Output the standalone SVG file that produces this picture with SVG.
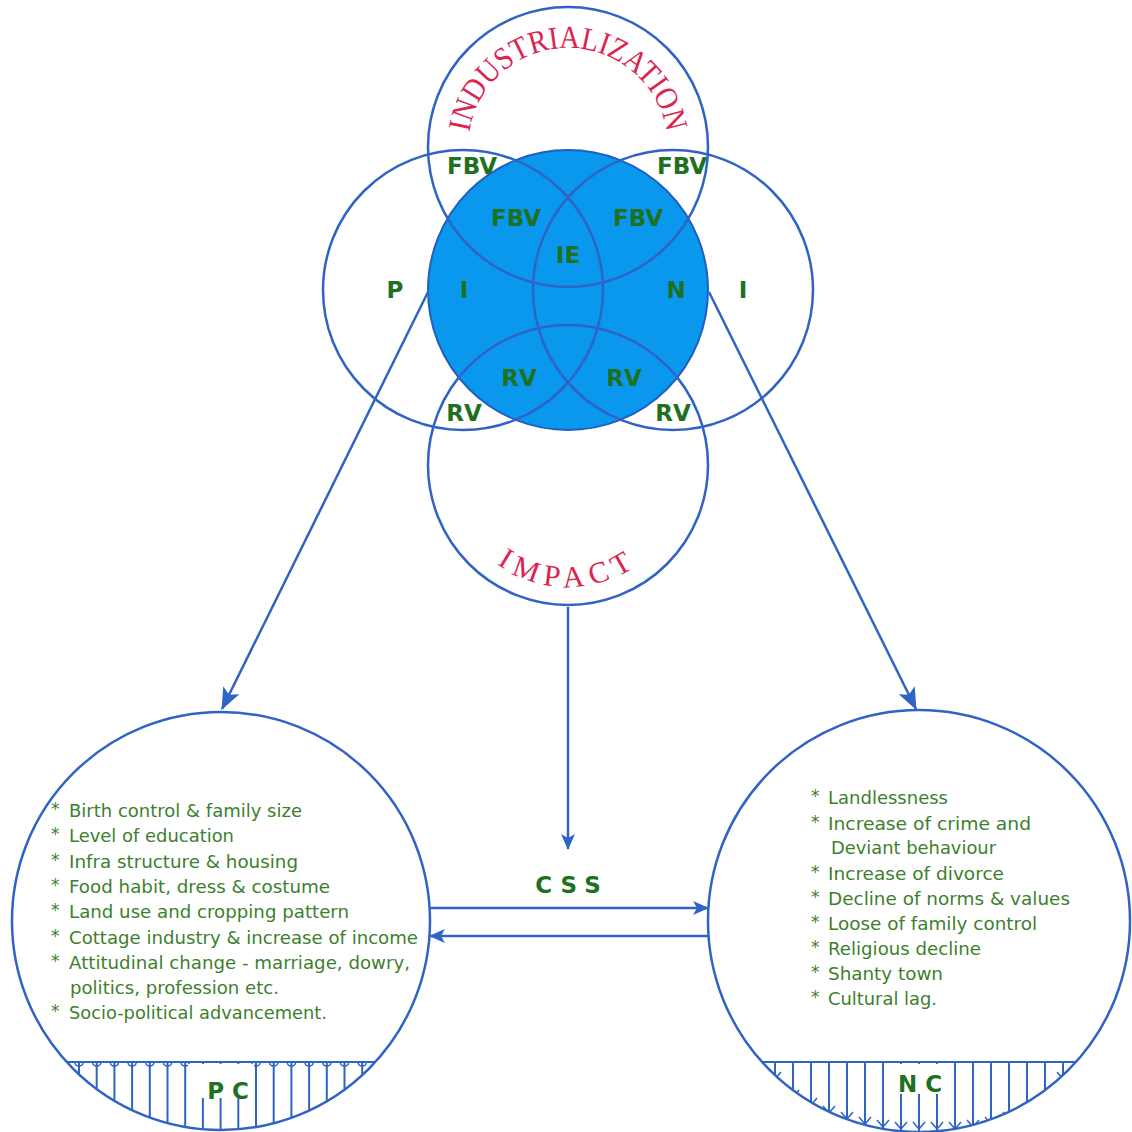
<svg xmlns="http://www.w3.org/2000/svg" width="1132" height="1132" viewBox="0 0 1132 1132">
<style>
.ring{fill:none;stroke:#2f64c4;stroke-width:2.5}
.lbl{font-family:"DejaVu Sans",Verdana,sans-serif;font-weight:bold;font-size:23px;fill:#1f701f;text-anchor:middle}
.red{font-family:"Liberation Serif","Times New Roman",serif;fill:#dc2451}
.item{font-family:"DejaVu Sans",Verdana,sans-serif;font-size:18.5px;fill:#3d7f2c}
.star{font-family:"DejaVu Sans",Verdana,sans-serif;font-size:17px;fill:#3d7f2c}
.link{fill:none;stroke:#2f64c4;stroke-width:2.5}
.hatch{stroke:#2f64c4;stroke-width:2;fill:none}
</style>
<defs>
<marker id="head" viewBox="0 0 22 18" markerWidth="22" markerHeight="18" refX="21" refY="9" orient="auto" markerUnits="userSpaceOnUse">
<path d="M0,0 L22,9 L0,18 L5,9 z" fill="#2f64c4"/>
</marker>
<marker id="headS" viewBox="0 0 16 14" markerWidth="16" markerHeight="14" refX="15" refY="7" orient="auto" markerUnits="userSpaceOnUse">
<path d="M0,0 L16,7 L0,14 L4,7 z" fill="#2f64c4"/>
</marker>
<path id="arcTop" d="M468,148 A100,100 0 0 1 668,148"/>
<path id="arcBot" d="M446,465 A122,122 0 0 0 690,465"/>
<clipPath id="clipPC"><circle cx="221" cy="921" r="209"/></clipPath>
<clipPath id="clipNC"><circle cx="919" cy="921" r="211"/></clipPath>
</defs>
<rect width="1132" height="1132" fill="#ffffff"/>

<!-- central shaded circle -->
<g id="centre">
<circle cx="568" cy="290" r="140" fill="#0a98ee" stroke="#1f5fc2" stroke-width="2"/>
</g>

<!-- outer rings -->
<g id="industrialization">
<circle class="ring" cx="568" cy="147" r="140"/>
<text class="red" font-size="32"><textPath href="#arcTop" startOffset="50%" text-anchor="middle" textLength="282" lengthAdjust="spacingAndGlyphs">INDUSTRIALIZATION</textPath></text>
</g>
<g id="left-ring">
<circle class="ring" cx="463" cy="290" r="140"/>
</g>
<g id="right-ring">
<circle class="ring" cx="673" cy="290" r="140"/>
</g>
<g id="impact">
<circle class="ring" cx="568" cy="465" r="140"/>
<text class="red" font-size="30" letter-spacing="7"><textPath href="#arcBot" startOffset="50%" text-anchor="middle">IMPACT</textPath></text>
</g>

<!-- region labels -->
<g id="regions" class="lbl">
<text x="472" y="174">FBV</text>
<text x="682" y="174">FBV</text>
<text x="516" y="226">FBV</text>
<text x="638" y="226">FBV</text>
<text x="568" y="263">IE</text>
<text x="395" y="298">P</text>
<text x="464" y="298">I</text>
<text x="676" y="298">N</text>
<text x="743" y="298">I</text>
<text x="519" y="386">RV</text>
<text x="624" y="386">RV</text>
<text x="464" y="421">RV</text>
<text x="673" y="421">RV</text>
</g>

<!-- connectors -->
<g id="connectors">
<line class="link" x1="428" y1="292" x2="222" y2="709" marker-end="url(#head)"/>
<line class="link" x1="709" y1="292" x2="916" y2="709" marker-end="url(#head)"/>
<line class="link" x1="568" y1="607" x2="568" y2="849" marker-end="url(#headS)"/>
<line class="link" x1="430" y1="908" x2="708" y2="908" marker-end="url(#headS)"/>
<line class="link" x1="708" y1="936" x2="430" y2="936" marker-end="url(#headS)"/>
<text class="lbl" x="572" y="893" letter-spacing="8">CSS</text>
</g>

<!-- positive consequences -->
<g id="pc">
<circle class="ring" cx="221" cy="921" r="209"/>
<g clip-path="url(#clipPC)" class="hatch">
<line x1="66" y1="1062" x2="377" y2="1062"/>
<path d="M79,1062V1140M96.7,1062V1140M114.4,1062V1140M132.1,1062V1140M149.8,1062V1140M167.5,1062V1140M185.2,1062V1140M202.9,1062V1140M220.6,1062V1140M238.3,1062V1140M256,1062V1140M273.7,1062V1140M291.4,1062V1140M309.1,1062V1140M326.8,1062V1140M344.5,1062V1140M362.2,1062V1140"/>
<path stroke-width="1.5" d="M75,1063a4,3 0 0 0 8,0M92.7,1063a4,3 0 0 0 8,0M110.4,1063a4,3 0 0 0 8,0M128.1,1063a4,3 0 0 0 8,0M145.8,1063a4,3 0 0 0 8,0M163.5,1063a4,3 0 0 0 8,0M181.2,1063a4,3 0 0 0 8,0M252,1063a4,3 0 0 0 8,0M269.7,1063a4,3 0 0 0 8,0M287.4,1063a4,3 0 0 0 8,0M305.1,1063a4,3 0 0 0 8,0M322.8,1063a4,3 0 0 0 8,0M340.5,1063a4,3 0 0 0 8,0M358.2,1063a4,3 0 0 0 8,0"/>
</g>
<rect x="188" y="1064" width="66" height="34" fill="#ffffff"/>
<text class="lbl" x="232" y="1099" letter-spacing="8">PC</text>
<text class="star" x="51" y="815">*</text>
<text class="star" x="51" y="840">*</text>
<text class="star" x="51" y="866">*</text>
<text class="star" x="51" y="891">*</text>
<text class="star" x="51" y="916">*</text>
<text class="star" x="51" y="942">*</text>
<text class="star" x="51" y="967">*</text>
<text class="star" x="51" y="1017">*</text>
<text class="item" x="69" y="817" textLength="233" lengthAdjust="spacingAndGlyphs">Birth control &amp; family size</text>
<text class="item" x="69" y="842" textLength="165" lengthAdjust="spacingAndGlyphs">Level of education</text>
<text class="item" x="69" y="868" textLength="229" lengthAdjust="spacingAndGlyphs">Infra structure &amp; housing</text>
<text class="item" x="69" y="893" textLength="261" lengthAdjust="spacingAndGlyphs">Food habit, dress &amp; costume</text>
<text class="item" x="69" y="918" textLength="280" lengthAdjust="spacingAndGlyphs">Land use and cropping pattern</text>
<text class="item" x="69" y="944" textLength="349" lengthAdjust="spacingAndGlyphs">Cottage industry &amp; increase of income</text>
<text class="item" x="69" y="969" textLength="341" lengthAdjust="spacingAndGlyphs">Attitudinal change - marriage, dowry,</text>
<text class="item" x="70" y="994" textLength="209" lengthAdjust="spacingAndGlyphs">politics, profession etc.</text>
<text class="item" x="69" y="1019" textLength="258" lengthAdjust="spacingAndGlyphs">Socio-political advancement.</text>
</g>

<!-- negative consequences -->
<g id="nc">
<circle class="ring" cx="919" cy="921" r="211"/>
<g clip-path="url(#clipNC)" class="hatch">
<line x1="760" y1="1062" x2="1078" y2="1062"/>
<path d="M775,1062V1140M793,1062V1140M811,1062V1140M829,1062V1140M847,1062V1140M865,1062V1140M883,1062V1140M901,1062V1140M919,1062V1140M937,1062V1140M955,1062V1140M973,1062V1140M991,1062V1140M1009,1062V1140M1027,1062V1140M1045,1062V1140M1063,1062V1140"/>
<path stroke-width="1.5" d="M769,1072L775,1079L781,1072M769,1088L775,1095L781,1088M787,1090L793,1097L799,1090M805,1098L811,1105L817,1098M823,1106L829,1113L835,1106M841,1112L847,1119L853,1112M859,1117L865,1124L871,1117M877,1120L883,1127L889,1120M895,1122L901,1129L907,1122M913,1122L919,1129L925,1122M931,1122L937,1129L943,1122M949,1122L955,1129L961,1122M967,1120L973,1127L979,1120M985,1117L991,1124L997,1117M1003,1112L1009,1119L1015,1112M1021,1106L1027,1113L1033,1106M1039,1098L1045,1105L1051,1098M1057,1090L1063,1097L1069,1090M1057,1072L1063,1079L1069,1072"/>
</g>
<rect x="885" y="1064" width="66" height="30" fill="#ffffff"/>
<text class="lbl" x="924" y="1092" letter-spacing="8">NC</text>
<text class="star" x="811" y="802">*</text>
<text class="star" x="811" y="828">*</text>
<text class="star" x="811" y="878">*</text>
<text class="star" x="811" y="903">*</text>
<text class="star" x="811" y="928">*</text>
<text class="star" x="811" y="953">*</text>
<text class="star" x="811" y="978">*</text>
<text class="star" x="811" y="1003">*</text>
<text class="item" x="828" y="804" textLength="120" lengthAdjust="spacingAndGlyphs">Landlessness</text>
<text class="item" x="828" y="830" textLength="203" lengthAdjust="spacingAndGlyphs">Increase of crime and</text>
<text class="item" x="831" y="854" textLength="165" lengthAdjust="spacingAndGlyphs">Deviant behaviour</text>
<text class="item" x="828" y="880" textLength="176" lengthAdjust="spacingAndGlyphs">Increase of divorce</text>
<text class="item" x="828" y="905" textLength="242" lengthAdjust="spacingAndGlyphs">Decline of norms &amp; values</text>
<text class="item" x="828" y="930" textLength="209" lengthAdjust="spacingAndGlyphs">Loose of family control</text>
<text class="item" x="828" y="955" textLength="153" lengthAdjust="spacingAndGlyphs">Religious decline</text>
<text class="item" x="828" y="980" textLength="115" lengthAdjust="spacingAndGlyphs">Shanty town</text>
<text class="item" x="828" y="1005" textLength="109" lengthAdjust="spacingAndGlyphs">Cultural lag.</text>
</g>
</svg>
